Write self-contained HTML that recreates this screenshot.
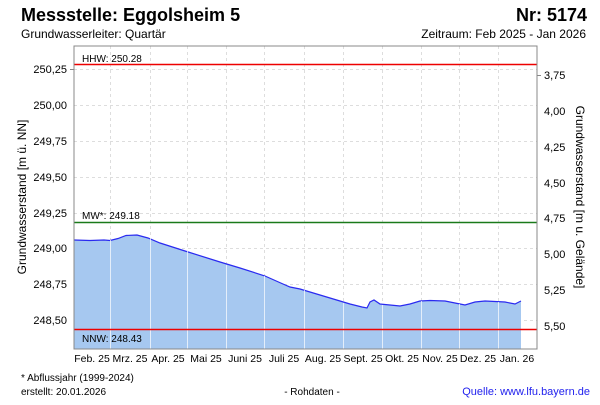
<!DOCTYPE html>
<html><head><meta charset="utf-8"><style>
body{margin:0;background:#fff;font-family:"Liberation Sans",Arial,sans-serif}
</style></head><body>
<svg width="600" height="400" xmlns="http://www.w3.org/2000/svg" font-family="Liberation Sans,Arial,sans-serif">
<rect width="600" height="400" fill="#fff"/>
<text x="21" y="21" font-size="18" font-weight="bold">Messstelle: Eggolsheim 5</text>
<text x="587" y="21" font-size="18" font-weight="bold" text-anchor="end">Nr: 5174</text>
<text x="21" y="38" font-size="12">Grundwasserleiter: Quartär</text>
<text x="586" y="38" font-size="12" text-anchor="end">Zeitraum: Feb 2025 - Jan 2026</text>
<g stroke="#ddd" stroke-dasharray="3,3" stroke-width="1">
<line x1="74" x2="537" y1="69.5" y2="69.5"/><line x1="74" x2="537" y1="105.5" y2="105.5"/><line x1="74" x2="537" y1="141.5" y2="141.5"/><line x1="74" x2="537" y1="177.5" y2="177.5"/><line x1="74" x2="537" y1="213.5" y2="213.5"/><line x1="74" x2="537" y1="248.5" y2="248.5"/><line x1="74" x2="537" y1="284.5" y2="284.5"/><line x1="74" x2="537" y1="320.5" y2="320.5"/>
<line y1="46" y2="349" x1="110.5" x2="110.5"/><line y1="46" y2="349" x1="150.5" x2="150.5"/><line y1="46" y2="349" x1="187.5" x2="187.5"/><line y1="46" y2="349" x1="226.5" x2="226.5"/><line y1="46" y2="349" x1="264.5" x2="264.5"/><line y1="46" y2="349" x1="304.5" x2="304.5"/><line y1="46" y2="349" x1="343.5" x2="343.5"/><line y1="46" y2="349" x1="382.5" x2="382.5"/><line y1="46" y2="349" x1="421.5" x2="421.5"/><line y1="46" y2="349" x1="459.5" x2="459.5"/><line y1="46" y2="349" x1="498.5" x2="498.5"/>
</g>
<path d="M74,240 L90,240.5 L104,240 L110,240.5 L118,238.5 L126,235.5 L137,235 L148,238 L160,243 L185,251 L220,262 L240,268 L265,276 L283,284 L290,287 L300,289 L320,295 L350,304 L362,307 L367,308 L370,302 L374,300 L380,304 L390,305 L400,306 L410,304 L420,301 L430,300.5 L445,301 L455,303 L465,305 L475,302 L485,301 L495,301.5 L505,302 L515,304 L521,301 L521,349 L74,349 Z" fill="#a6c8f0"/>
<path d="M74,240 L90,240.5 L104,240 L110,240.5 L118,238.5 L126,235.5 L137,235 L148,238 L160,243 L185,251 L220,262 L240,268 L265,276 L283,284 L290,287 L300,289 L320,295 L350,304 L362,307 L367,308 L370,302 L374,300 L380,304 L390,305 L400,306 L410,304 L420,301 L430,300.5 L445,301 L455,303 L465,305 L475,302 L485,301 L495,301.5 L505,302 L515,304 L521,301" fill="none" stroke="#2a2af0" stroke-width="1.2"/>
<g stroke="#fff" stroke-width="1" opacity="0.7">
<line y1="240" y2="349" x1="110.5" x2="110.5"/><line y1="236" y2="349" x1="150.5" x2="150.5"/><line y1="248" y2="349" x1="187.5" x2="187.5"/><line y1="265" y2="349" x1="226.5" x2="226.5"/><line y1="276" y2="349" x1="264.5" x2="264.5"/><line y1="290" y2="349" x1="304.5" x2="304.5"/><line y1="303" y2="349" x1="343.5" x2="343.5"/><line y1="305" y2="349" x1="382.5" x2="382.5"/><line y1="301" y2="349" x1="421.5" x2="421.5"/><line y1="304" y2="349" x1="459.5" x2="459.5"/><line y1="302" y2="349" x1="498.5" x2="498.5"/>
</g>
<line x1="74" x2="537" y1="64.5" y2="64.5" stroke="#e00" stroke-width="1.5"/>
<line x1="74" x2="537" y1="222.5" y2="222.5" stroke="#1a7a1a" stroke-width="1.5"/>
<line x1="74" x2="537" y1="329.5" y2="329.5" stroke="#e00" stroke-width="1.5"/>
<text x="82" y="62" font-size="10">HHW: 250.28</text>
<text x="82" y="219" font-size="10">MW*: 249.18</text>
<text x="82" y="342" font-size="10">NNW: 248.43</text>
<rect x="74" y="46" width="463" height="303" fill="none" stroke="#888"/>
<g font-size="11" text-anchor="end">
<text x="67" y="73">250,25</text><text x="67" y="109">250,00</text><text x="67" y="145">249,75</text><text x="67" y="181">249,50</text><text x="67" y="217">249,25</text><text x="67" y="252">249,00</text><text x="67" y="288">248,75</text><text x="67" y="324">248,50</text>
</g>
<g font-size="11" text-anchor="start">
<text x="544" y="79">3,75</text><text x="544" y="115">4,00</text><text x="544" y="151">4,25</text><text x="544" y="187">4,50</text><text x="544" y="222">4,75</text><text x="544" y="258">5,00</text><text x="544" y="294">5,25</text><text x="544" y="330">5,50</text>
</g>
<g stroke="#888"><line x1="70" x2="74" y1="69.5" y2="69.5"/><line x1="537" x2="541" y1="75.5" y2="75.5"/></g>
<text transform="translate(26,197) rotate(-90)" font-size="12" text-anchor="middle">Grundwasserstand [m ü. NN]</text>
<text transform="translate(576,197) rotate(90)" font-size="12" text-anchor="middle">Grundwasserstand [m u. Gelände]</text>
<g font-size="10.5" text-anchor="middle">
<text x="92" y="362">Feb. 25</text><text x="130" y="362">Mrz. 25</text><text x="168" y="362">Apr. 25</text><text x="206" y="362">Mai 25</text><text x="245" y="362">Juni 25</text><text x="284" y="362">Juli 25</text><text x="323" y="362">Aug. 25</text><text x="363" y="362">Sept. 25</text><text x="402" y="362">Okt. 25</text><text x="440" y="362">Nov. 25</text><text x="478" y="362">Dez. 25</text><text x="517" y="362">Jan. 26</text>
</g>
<text x="21" y="381" font-size="10">* Abflussjahr (1999-2024)</text>
<text x="21" y="395" font-size="10">erstellt:  20.01.2026</text>
<text x="312" y="395" font-size="10" text-anchor="middle">- Rohdaten -</text>
<text x="590" y="395" font-size="11" fill="#2222ee" text-anchor="end">Quelle: www.lfu.bayern.de</text>
</svg>
</body></html>
